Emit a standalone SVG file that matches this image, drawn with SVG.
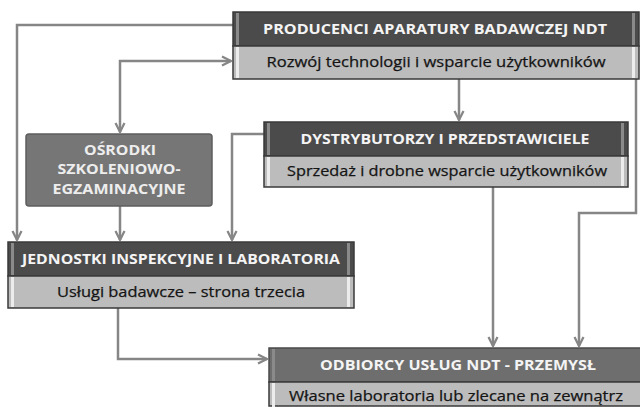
<svg xmlns="http://www.w3.org/2000/svg" width="640" height="407" viewBox="0 0 640 407">
<defs>
<marker id="arr" viewBox="0 0 10 10" refX="9" refY="5" markerWidth="4.5" markerHeight="4.5" orient="auto-start-reverse" markerUnits="strokeWidth">
<path d="M1,1 L9,5 L1,9" fill="none" stroke="#868686" stroke-width="2"/>
</marker>
<style>
.hdr{fill:#4b4b4b;stroke:#3a3a3a;stroke-width:1.5}
.hdr2{fill:#6e6e6e;stroke:#4a4a4a;stroke-width:1.5}
.sub{fill:#bcbcbc;stroke:#3a3a3a;stroke-width:1.5}
.sl{fill:#8a8a8a}
.sl2{fill:#ececec}
.ht{font-family:"Open Sans","Liberation Sans",sans-serif;font-weight:bold;font-size:14.5px;fill:#f4f4f4;text-anchor:middle}
.ot{font-family:"Open Sans","Liberation Sans",sans-serif;font-weight:bold;font-size:15px;fill:#ededed;text-anchor:middle}
.st{font-family:"Open Sans","Liberation Sans",sans-serif;font-size:15px;fill:#141414;text-anchor:middle;stroke:#141414;stroke-width:0.25}
.c{fill:none;stroke:#868686;stroke-width:2.5;marker-end:url(#arr)}
</style>
</defs>
<rect width="640" height="407" fill="#ffffff"/>
<g id="connectors">
<path class="c" d="M233,25 H17 V240"/>
<path class="c" d="M120,132 V61 H231" marker-start="url(#arr)"/>
<path class="c" d="M120,206 V240"/>
<path class="c" d="M264,134 H232 V240"/>
<path class="c" d="M459,79 V120"/>
<path class="c" d="M493,187 V346"/>
<path class="c" d="M636,79 V213 H579 V346"/>
<path class="c" d="M118,308 V359 H267"/>
</g>
<g id="producenci">
<rect class="hdr" x="233" y="12" width="406" height="34"/>
<rect class="sub" x="233" y="46" width="406" height="33"/>
<rect class="sl" x="236" y="13" width="3" height="32"/>
<rect class="sl2" x="236" y="47" width="3" height="31"/>
<rect class="sl" x="632" y="13" width="3" height="32"/>
<rect class="sl2" x="632" y="47" width="3" height="31"/>
<text class="ht" x="435" y="34" textLength="344" lengthAdjust="spacingAndGlyphs">PRODUCENCI APARATURY BADAWCZEJ NDT</text>
<text class="st" x="436" y="67" textLength="339" lengthAdjust="spacingAndGlyphs">Rozwój technologii i wsparcie użytkowników</text>
</g>
<g id="dystrybutorzy">
<rect class="hdr" x="264" y="122" width="364" height="34"/>
<rect class="sub" x="264" y="156" width="364" height="31"/>
<rect class="sl" x="267" y="123" width="3" height="32"/>
<rect class="sl2" x="267" y="157" width="3" height="29"/>
<rect class="sl" x="621" y="123" width="3" height="32"/>
<rect class="sl2" x="621" y="157" width="3" height="29"/>
<text class="ht" x="445" y="144" textLength="289" lengthAdjust="spacingAndGlyphs">DYSTRYBUTORZY I PRZEDSTAWICIELE</text>
<text class="st" x="447" y="176" textLength="320" lengthAdjust="spacingAndGlyphs">Sprzedaż i drobne wsparcie użytkowników</text>
</g>
<g id="osrodki">
<rect x="26" y="134" width="186" height="72" rx="3" fill="#767676" stroke="#5e5e5e" stroke-width="1.5"/>
<text class="ot" x="120" y="155" textLength="72" lengthAdjust="spacingAndGlyphs">OŚRODKI</text>
<text class="ot" x="119" y="174" textLength="123" lengthAdjust="spacingAndGlyphs">SZKOLENIOWO-</text>
<text class="ot" x="119" y="194" textLength="133" lengthAdjust="spacingAndGlyphs">EGZAMINACYJNE</text>
</g>
<g id="jednostki">
<rect class="hdr" x="8" y="242" width="346" height="34"/>
<rect class="sub" x="8" y="276" width="346" height="32"/>
<rect class="sl" x="11" y="243" width="3" height="32"/>
<rect class="sl2" x="11" y="277" width="3" height="30"/>
<rect class="sl" x="347" y="243" width="3" height="32"/>
<rect class="sl2" x="347" y="277" width="3" height="30"/>
<text class="ht" x="181" y="264" textLength="318" lengthAdjust="spacingAndGlyphs">JEDNOSTKI INSPEKCYJNE I LABORATORIA</text>
<text class="st" x="181" y="297" textLength="248" lengthAdjust="spacingAndGlyphs">Usługi badawcze – strona trzecia</text>
</g>
<g id="odbiorcy">
<rect class="hdr2" x="269" y="348" width="374" height="34"/>
<rect class="sub" x="269" y="382" width="374" height="24" fill="#c4c4c4"/>
<rect class="sl" x="272" y="349" width="3" height="32" fill="#959595"/>
<rect class="sl2" x="272" y="383" width="3" height="24"/>
<text class="ht" x="458" y="370" textLength="276" lengthAdjust="spacingAndGlyphs">ODBIORCY USŁUG NDT - PRZEMYSŁ</text>
<text class="st" x="456" y="401" textLength="334" lengthAdjust="spacingAndGlyphs">Własne laboratoria lub zlecane na zewnątrz</text>
</g>
</svg>
